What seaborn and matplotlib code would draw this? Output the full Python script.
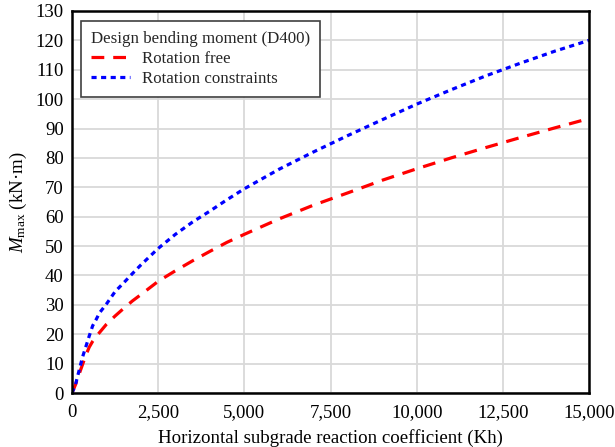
import matplotlib
matplotlib.use("Agg")
import matplotlib.pyplot as plt
import seaborn as sns
import pandas as pd
from matplotlib.ticker import FuncFormatter, MultipleLocator

# Horizontal subgrade reaction coefficient Kh
kh = [0, 100, 200, 300, 400, 500, 600, 700, 800, 1000, 1250, 1500, 1750, 2000,
      2500, 3000, 3500, 4000, 4500, 5000, 6000, 7000, 8000, 9000, 10000,
      11000, 12000, 13000, 14000, 15000]

# Design bending moment Mmax (kN·m), pile head free to rotate
m_free = [0, 2.8, 6.2, 9.5, 12.8, 15.6, 17.6, 19.2, 20.6, 23.4, 26.2, 28.8, 31.3, 33.5,
          38.0, 41.6, 45.0, 48.2, 51.3, 54.0, 59.2, 63.9, 68.1, 72.4, 76.3,
          80.0, 83.5, 86.9, 90.2, 93.4]

# Design bending moment Mmax (kN·m), pile head rotation restrained
m_fixed = [0, 2.8, 7.4, 12.0, 15.7, 19.4, 22.9, 25.0, 27.3, 30.3, 34.5, 37.5, 40.6, 43.6,
           49.2, 54.0, 58.2, 61.9, 65.8, 69.5, 76.1, 82.0, 87.6, 93.0, 98.3,
           103.2, 107.9, 112.2, 116.3, 120.0]

series_names = ["Rotation free", "Rotation constraints"]
legend_title = "Design bending moment (D400)"

df = pd.DataFrame({
    "Kh": kh * 2,
    "M": m_free + m_fixed,
    "case": [series_names[0]] * len(kh) + [series_names[1]] * len(kh),
})

sns.set_theme(style="whitegrid")
plt.rcParams["font.family"] = ["Liberation Serif", "DejaVu Serif"]
plt.rcParams["mathtext.fontset"] = "custom"
plt.rcParams["mathtext.rm"] = "Liberation Serif"
plt.rcParams["mathtext.it"] = "Liberation Serif:italic"

fig = plt.figure(figsize=(6.15, 4.47), dpi=100)
ax = fig.add_axes([72 / 615, 1 - 393 / 447, 517 / 615, 382 / 447])

styles = {
    series_names[0]: dict(color="#ff0000", dashes=(4.0, 2.8)),
    series_names[1]: dict(color="#0000ff", dashes=(1.6, 1.4)),
}
for name in series_names:
    sub = df[df["case"] == name]
    sns.lineplot(data=sub, x="Kh", y="M", ax=ax, label=name,
                 color=styles[name]["color"], linewidth=2.3)
    ax.lines[-1].set_dashes(styles[name]["dashes"])

ax.set_xlim(0, 15000)
ax.set_ylim(0, 130)
ax.xaxis.set_major_locator(MultipleLocator(2500))
ax.yaxis.set_major_locator(MultipleLocator(10))
ax.xaxis.set_major_formatter(FuncFormatter(lambda v, p: f"{int(v):,}"))

ax.grid(True, color="#d9d9d9", linewidth=1.3)
ax.set_facecolor("white")
for s in ax.spines.values():
    s.set_color("black")
    s.set_linewidth(1.8)
ax.tick_params(axis="y", length=0, labelsize=13.5, colors="black", pad=6)
ax.tick_params(axis="x", length=0, labelsize=13.5, colors="black", pad=8)

ax.set_xlabel("Horizontal subgrade reaction coefficient (Kh)", fontsize=13.6,
              color="black", labelpad=6)
ax.set_ylabel(r"$M_{\rm max}$ (kN·m)", fontsize=13.6, color="black", labelpad=5)

leg = ax.legend(title=legend_title, loc="upper left", fontsize=12.2,
                title_fontsize=12.2, alignment="left", frameon=True,
                fancybox=False, edgecolor="#404040", framealpha=1,
                handlelength=2.3, handletextpad=0.7, borderpad=0.6,
                labelspacing=0.22, bbox_to_anchor=(0.001, 0.996))
leg.get_frame().set_linewidth(1.2)

fig.savefig("out.png", dpi=100, facecolor="white")
